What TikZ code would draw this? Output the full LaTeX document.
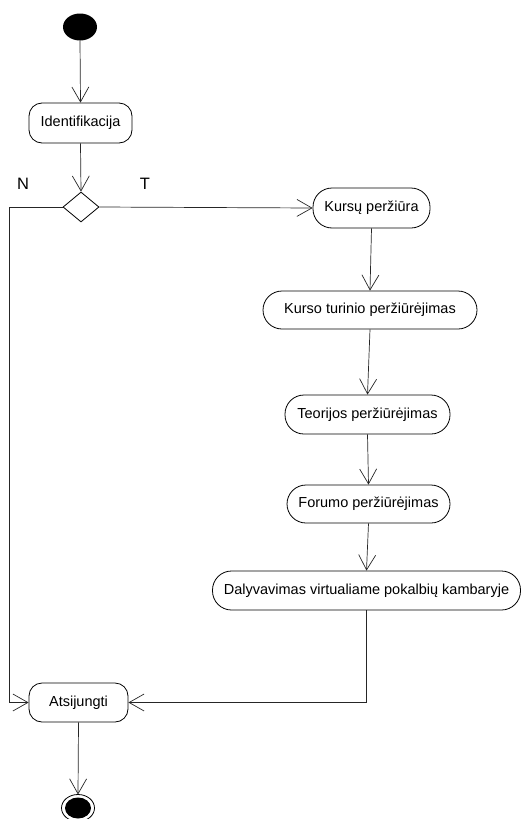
\documentclass[tikz,border=0pt]{standalone}
\usepackage{fontspec}
\setmainfont{Liberation Sans}
\usetikzlibrary{arrows.meta,shapes.geometric}
\begin{document}
\begin{tikzpicture}[x=1pt,y=-1pt,
  every node/.style={font=\fontsize{14.5}{17}\selectfont},
  flow/.style={draw=black!85, line width=0.7pt, -{Straight Barb[length=15pt,width=17pt,line width=0.7pt]}},
  action/.style={draw, line width=0.8pt, rectangle, rounded corners=13pt, inner sep=0pt, anchor=center},
  stadium/.style={draw, line width=0.8pt, rectangle, rounded corners=19pt, inner sep=0pt, anchor=center},
  label/.style={font=\fontsize{16.5}{19}\selectfont}]
\useasboundingbox (0,0) rectangle (522,819);

% start and end
\fill (80,27) ellipse [x radius=17, y radius=13.5];
\coordinate (start) at (80,40.5);
\node[action, minimum width=103, minimum height=40] (ident) at (80.5,123) {Identifikacija};
\node[draw, line width=0.8pt, shape=diamond, minimum width=36, minimum height=30, inner sep=0pt] (dec) at (81,207) {};
\node[label] (nlab) at (23,184) {N};
\node[label] (tlab) at (145,184) {T};

\node[stadium, minimum width=117, minimum height=40] (kurs) at (371.5,208) {Kursų peržiūra};
\node[stadium, minimum width=214, minimum height=38] (turin) at (370,310) {Kurso turinio peržiūrėjimas};
\node[stadium, minimum width=165, minimum height=39] (teor) at (367.5,414.5) {Teorijos peržiūrėjimas};
\node[stadium, minimum width=163, minimum height=38] (forum) at (368.5,504) {Forumo peržiūrėjimas};
\node[stadium, minimum width=308, minimum height=39] (daly) at (366.5,590.5) {Dalyvavimas virtualiame pokalbių kambaryje};
\node[action, minimum width=99, minimum height=39] (atsi) at (78.5,702.5) {Atsijungti};

% end state: bullseye
\draw[line width=0.8pt] (78,808) ellipse [x radius=16.5, y radius=13.5];
\fill (78,808) ellipse [x radius=13, y radius=10.5];
\coordinate (fin) at (78,794.5);

% connectors
\draw[flow] (start) -- (ident.north);
\draw[flow] (ident.south) -- (dec.north);
\draw[flow] (dec.east) -- (kurs.west);
\draw[flow] (kurs.south) -- (turin.north);
\draw[flow] (turin.south) -- (teor.north);
\draw[flow] (teor.south) -- (forum.north);
\draw[flow] (forum.south) -- (daly.north);
\draw[flow] (dec.west) -- (9,207) -- (9,702.5) -- (atsi.west);
\draw[flow] (daly.south) -- (366.5,702.5) -- (atsi.east);
\draw[flow] (atsi.south) -- (fin);
\end{tikzpicture}
\end{document}
